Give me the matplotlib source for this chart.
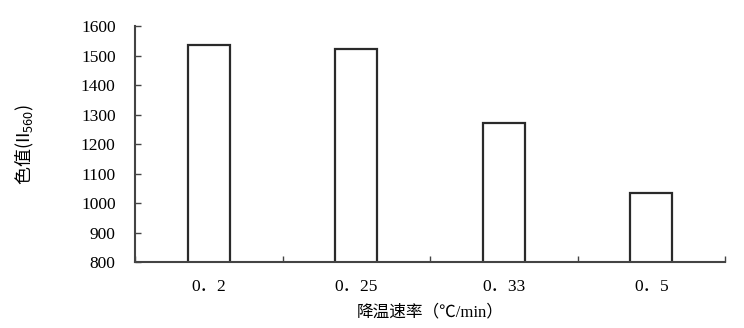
import numpy as np
import matplotlib
matplotlib.use("Agg")
import matplotlib.pyplot as plt

plt.rcParams['font.family'] = ['Liberation Serif', 'Noto Sans CJK SC']
plt.rcParams['mathtext.fontset'] = 'custom'
plt.rcParams['mathtext.rm'] = 'Noto Sans CJK SC'

# data
rates = ['0．2', '0．25', '0．33', '0．5']
values = [1536, 1521, 1272, 1035]
yticks = [800, 900, 1000, 1100, 1200, 1300, 1400, 1500, 1600]

fig = plt.figure(figsize=(7.44, 3.28), dpi=100)
ax = fig.add_axes([0.1815, 0.2012, 0.793, 0.7195])

x = np.arange(len(rates))
ax.bar(x, values, width=0.285, bottom=0, color='white',
       edgecolor='#2a2a2a', linewidth=1.6)

ax.set_xlim(-0.5, len(rates) - 0.5)
ax.set_ylim(800, 1600)
ax.set_yticks(yticks)
ax.tick_params(axis='y', direction='in', length=4, width=1, color='#444444',
               labelsize=12.5, pad=14)

ax.set_xticks(x)
ax.set_xticklabels(rates)
ax.set_xticks(np.arange(len(rates) + 1) - 0.5, minor=True)
ax.tick_params(axis='x', which='major', length=0, labelsize=12.5, pad=12)
ax.tick_params(axis='x', which='minor', direction='in', length=4, width=1,
               color='#444444')

for s in ['top', 'right']:
    ax.spines[s].set_visible(False)
for s in ['left', 'bottom']:
    ax.spines[s].set_color('#444444')
    ax.spines[s].set_linewidth(1.5)

ax.set_xlabel('降温速率（℃/min）', fontsize=12, labelpad=7)
ax.set_ylabel(r'$\mathrm{色值(II}_{560}\mathrm{)}$', fontsize=13, labelpad=32)

fig.savefig('out.png', dpi=100)
